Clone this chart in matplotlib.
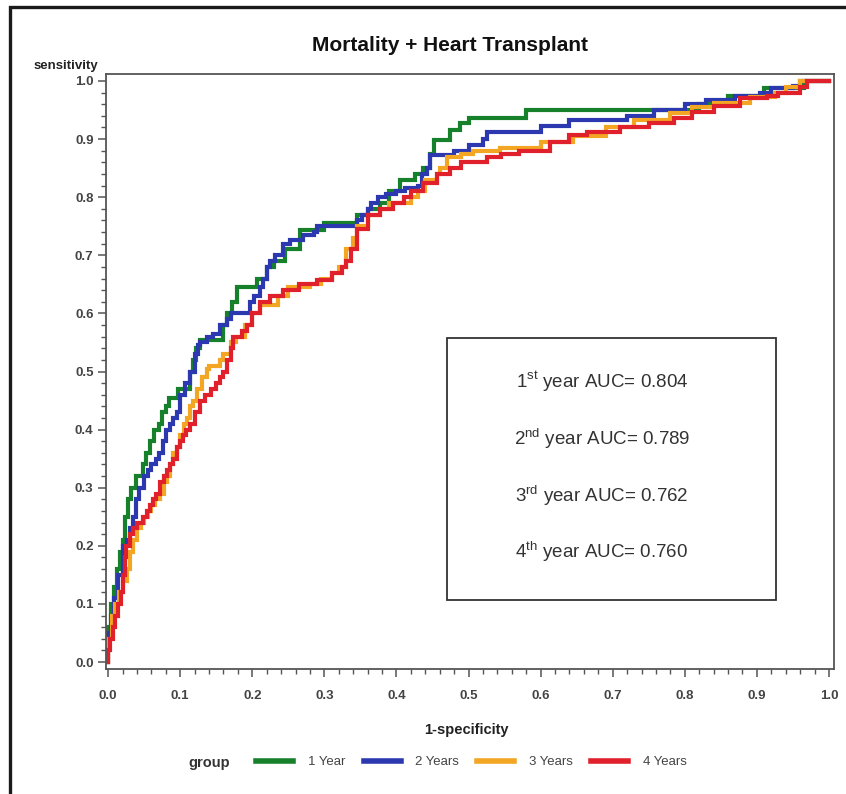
import matplotlib
matplotlib.use('Agg')
import matplotlib.pyplot as plt
from matplotlib.patches import Rectangle
from matplotlib.ticker import MultipleLocator

# ROC step curves: x = 1-specificity, y = sensitivity (post steps)
yr1_x = [0, 0, 0.004, 0.008, 0.012, 0.016, 0.02, 0.024, 0.028, 0.032,
         0.038, 0.048, 0.053, 0.058, 0.064, 0.07, 0.075, 0.08, 0.085, 0.097,
         0.114, 0.118, 0.122, 0.128, 0.16, 0.165, 0.172, 0.179, 0.206, 0.22,
         0.23, 0.245, 0.266, 0.30, 0.345, 0.36, 0.377, 0.39, 0.405, 0.426,
         0.437, 0.447, 0.452, 0.474, 0.488, 0.50, 0.58, 0.82, 0.86, 0.91,
         0.965, 1.0]
yr1_y = [0, 0.06, 0.10, 0.13, 0.16, 0.19, 0.21, 0.25, 0.28, 0.30,
         0.32, 0.34, 0.36, 0.38, 0.40, 0.41, 0.43, 0.44, 0.455, 0.47,
         0.50, 0.52, 0.54, 0.555, 0.58, 0.60, 0.62, 0.645, 0.66, 0.68,
         0.69, 0.71, 0.743, 0.755, 0.77, 0.78, 0.79, 0.81, 0.83, 0.84,
         0.85, 0.875, 0.898, 0.915, 0.928, 0.936, 0.95, 0.96, 0.974, 0.988,
         1.0, 1.0]

yr2_x = [0, 0, 0.004, 0.008, 0.014, 0.02, 0.026, 0.03, 0.034, 0.038,
         0.043, 0.05, 0.055, 0.06, 0.066, 0.07, 0.076, 0.08, 0.086, 0.09,
         0.096, 0.10, 0.106, 0.114, 0.12, 0.125, 0.128, 0.137, 0.145, 0.155,
         0.165, 0.17, 0.197, 0.203, 0.21, 0.215, 0.22, 0.225, 0.232, 0.243,
         0.252, 0.27, 0.285, 0.29, 0.345, 0.352, 0.36, 0.365, 0.374, 0.385,
         0.40, 0.412, 0.43, 0.436, 0.442, 0.447, 0.48, 0.50, 0.52, 0.525,
         0.60, 0.64, 0.72, 0.757, 0.80, 0.83, 0.87, 0.905, 0.92, 0.95,
         0.96, 1.0]
yr2_y = [0, 0.05, 0.08, 0.11, 0.15, 0.20, 0.21, 0.23, 0.25, 0.28,
         0.30, 0.32, 0.33, 0.34, 0.35, 0.36, 0.38, 0.40, 0.41, 0.42,
         0.43, 0.46, 0.48, 0.50, 0.53, 0.545, 0.55, 0.56, 0.565, 0.58,
         0.59, 0.60, 0.62, 0.63, 0.645, 0.66, 0.68, 0.69, 0.70, 0.72,
         0.727, 0.735, 0.74, 0.75, 0.76, 0.77, 0.78, 0.79, 0.80, 0.805,
         0.81, 0.815, 0.82, 0.84, 0.85, 0.873, 0.88, 0.89, 0.90, 0.912,
         0.922, 0.932, 0.94, 0.95, 0.96, 0.967, 0.975, 0.98, 0.988, 0.992,
         1.0, 1.0]

yr3_x = [0, 0, 0.005, 0.01, 0.015, 0.02, 0.026, 0.03, 0.035, 0.04,
         0.045, 0.05, 0.055, 0.06, 0.065, 0.072, 0.077, 0.082, 0.086, 0.09,
         0.095, 0.10, 0.105, 0.11, 0.114, 0.118, 0.123, 0.13, 0.137, 0.14,
         0.155, 0.16, 0.17, 0.178, 0.19, 0.20, 0.21, 0.235, 0.25, 0.28,
         0.295, 0.31, 0.32, 0.33, 0.34, 0.345, 0.36, 0.377, 0.39, 0.42,
         0.43, 0.44, 0.456, 0.46, 0.47, 0.49, 0.506, 0.544, 0.60, 0.645,
         0.69, 0.73, 0.78, 0.81, 0.84, 0.89, 0.925, 0.94, 0.96, 1.0]
yr3_y = [0, 0.04, 0.08, 0.10, 0.12, 0.14, 0.16, 0.19, 0.21, 0.23,
         0.24, 0.25, 0.26, 0.27, 0.28, 0.29, 0.31, 0.32, 0.34, 0.36,
         0.37, 0.39, 0.41, 0.42, 0.44, 0.45, 0.47, 0.49, 0.505, 0.51,
         0.52, 0.53, 0.55, 0.56, 0.58, 0.60, 0.615, 0.63, 0.645, 0.65,
         0.66, 0.67, 0.68, 0.71, 0.73, 0.75, 0.77, 0.78, 0.79, 0.80,
         0.81, 0.83, 0.84, 0.85, 0.87, 0.875, 0.88, 0.885, 0.895, 0.905,
         0.92, 0.932, 0.945, 0.955, 0.962, 0.972, 0.98, 0.99, 1.0, 1.0]

yr4_x = [0, 0, 0.003, 0.007, 0.01, 0.014, 0.018, 0.021, 0.023, 0.025,
         0.03, 0.035, 0.04, 0.048, 0.054, 0.058, 0.062, 0.067, 0.072, 0.077,
         0.082, 0.086, 0.09, 0.095, 0.10, 0.104, 0.108, 0.114, 0.12, 0.128,
         0.135, 0.142, 0.15, 0.155, 0.16, 0.165, 0.17, 0.173, 0.185, 0.193,
         0.20, 0.21, 0.225, 0.243, 0.265, 0.29, 0.31, 0.325, 0.33, 0.337,
         0.345, 0.36, 0.377, 0.395, 0.41, 0.42, 0.437, 0.456, 0.474, 0.49,
         0.525, 0.545, 0.57, 0.613, 0.64, 0.665, 0.71, 0.75, 0.785, 0.81,
         0.84, 0.877, 0.914, 0.93, 0.96, 0.97, 1.0]
yr4_y = [0, 0.02, 0.04, 0.06, 0.08, 0.10, 0.12, 0.15, 0.18, 0.20,
         0.22, 0.23, 0.24, 0.25, 0.26, 0.27, 0.28, 0.29, 0.31, 0.32,
         0.33, 0.34, 0.35, 0.37, 0.38, 0.39, 0.40, 0.41, 0.43, 0.45,
         0.46, 0.47, 0.48, 0.49, 0.50, 0.52, 0.54, 0.56, 0.57, 0.58,
         0.60, 0.62, 0.63, 0.64, 0.65, 0.657, 0.67, 0.68, 0.69, 0.71,
         0.745, 0.77, 0.78, 0.79, 0.80, 0.81, 0.825, 0.84, 0.85, 0.86,
         0.87, 0.875, 0.88, 0.895, 0.907, 0.912, 0.92, 0.927, 0.937, 0.947,
         0.957, 0.97, 0.975, 0.98, 0.99, 1.0, 1.0]

groups = ['1 Year', '2 Years', '3 Years', '4 Years']
colors = ['#16812a', '#2b38b0', '#f2a623', '#e0202a']
auc_ordinals = ['st', 'nd', 'rd', 'th']
auc_values = [0.804, 0.789, 0.762, 0.760]

narrow = ['Liberation Sans Narrow', 'Liberation Sans', 'DejaVu Sans']
plt.rcParams['font.family'] = narrow
plt.rcParams['mathtext.fontset'] = 'custom'
plt.rcParams['mathtext.rm'] = 'Liberation Sans'

fig = plt.figure(figsize=(8.46, 7.94), dpi=100)
ax = fig.add_axes([0.1253, 0.1574, 0.8605, 0.7494])

series = [(yr1_x, yr1_y), (yr2_x, yr2_y), (yr3_x, yr3_y), (yr4_x, yr4_y)]
handles = []
for (xs, ys), c, g in zip(series, colors, groups):
    h, = ax.step(xs, ys, where='post', color=c, lw=3.0, label=g,
                 solid_joinstyle='miter')
    handles.append(h)

ax.set_xlim(-0.003, 1.007)
ax.set_ylim(-0.012, 1.012)
ax.xaxis.set_major_locator(MultipleLocator(0.1))
ax.xaxis.set_minor_locator(MultipleLocator(0.02))
ax.yaxis.set_major_locator(MultipleLocator(0.1))
ax.yaxis.set_minor_locator(MultipleLocator(0.02))
ax.xaxis.set_major_formatter(plt.FuncFormatter(lambda v, p: f'{v:.1f}'))
ax.yaxis.set_major_formatter(plt.FuncFormatter(lambda v, p: f'{v:.1f}'))
ax.tick_params(which='major', length=6, width=1.1, color='#555555',
               labelsize=9.5, labelcolor='#444444')
ax.tick_params(which='minor', length=3.5, width=1.0, color='#555555')
ax.tick_params(axis='x', which='major', pad=9)
ax.tick_params(axis='y', which='major', pad=3)
for lab in ax.get_xticklabels() + ax.get_yticklabels():
    lab.set_fontweight('bold')
for s in ax.spines.values():
    s.set_color('#555555')
    s.set_linewidth(1.3)

# AUC box
ax.add_patch(Rectangle((0.468, 0.116), 0.452, 0.44, transform=ax.transAxes,
                       fill=False, edgecolor='#333333', lw=1.3))
auc_ys = [0.482, 0.387, 0.291, 0.197]
for i, (o, v) in enumerate(zip(auc_ordinals, auc_values)):
    ax.text(0.681, auc_ys[i], f'{i + 1}$^{{\\mathrm{{{o}}}}}$ year AUC= {v:.3f}',
            transform=ax.transAxes, ha='center', va='center', fontsize=13.5,
            color='#333333', family=['Liberation Sans', 'DejaVu Sans'])

fig.text(0.532, 0.943, 'Mortality + Heart Transplant', ha='center', va='center',
         fontsize=15, fontweight='bold', color='#111111')
fig.text(0.078, 0.917, 'sensitivity', ha='center', va='center',
         fontsize=9.5, fontweight='bold', color='#222222')
fig.text(0.551, 0.081, '1-specificity', ha='center', va='center',
         fontsize=10.5, fontweight='bold', color='#222222')
fig.text(0.247, 0.039, 'group', ha='center', va='center',
         fontsize=10.5, fontweight='bold', color='#333333')

leg = fig.legend(handles=handles, labels=groups, ncol=4, frameon=False,
                 loc='center left', bbox_to_anchor=(0.303, 0.040),
                 fontsize=9.5, handlelength=2.8, handletextpad=1.1,
                 columnspacing=1.4, borderaxespad=0, borderpad=0)
for t in leg.get_texts():
    t.set_color('#444444')
for lh in leg.get_lines():
    lh.set_linewidth(4)

# outer figure border
fig.patches.append(Rectangle((10 / 846, -0.1), 1.2, 1.1 - 7 / 794,
                             transform=fig.transFigure, fill=False,
                             edgecolor='#1a1a1a', lw=2.4, clip_on=False))

fig.savefig('out.png', dpi=100)
